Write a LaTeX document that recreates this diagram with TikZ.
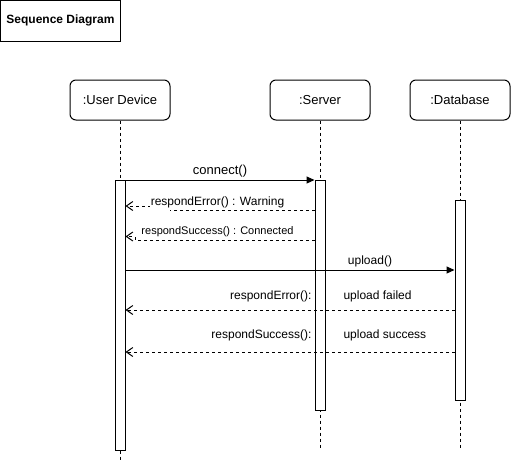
\documentclass[tikz,border=0pt]{standalone}
\usepackage{fontspec}
\setmainfont{Liberation Sans}
\usetikzlibrary{arrows.meta}

\begin{document}
\begin{tikzpicture}[
  x=1pt, y=-1pt,
  line width=1pt,
  font=\fontsize{12}{14}\selectfont,
  actor/.style={draw, rounded corners=6pt, minimum width=100pt, minimum height=40pt,
    inner sep=0pt, font=\fontsize{13}{15}\selectfont},
  titlebox/.style={draw, minimum width=120pt, minimum height=41pt, inner sep=0pt,
    font=\fontsize{12}{14}\selectfont\bfseries},
  lifeline/.style={dash pattern=on 3pt off 3pt},
  activation/.style={draw, fill=white, minimum width=10pt, inner sep=0pt, anchor=north},
  callmsg/.style={-{Triangle[length=8pt,width=7pt]}},
  replymsg/.style={dash pattern=on 3pt off 3pt, -{Straight Barb[length=6.5pt,width=9pt]}},
  msglabel/.style={inner sep=1pt},
]
\useasboundingbox (0,0) rectangle (511,461);

% title
\node[titlebox] (title) at (60.5,20.5) {Sequence Diagram};

% participants
\node[actor] (ud)  at (120,100) {:User Device};
\node[actor] (srv) at (320,100) {:Server};
\node[actor] (db)  at (460,100) {:Database};

% lifeline ends
\coordinate (udEnd)  at (120,460);
\coordinate (srvEnd) at (320,448);
\coordinate (dbEnd)  at (460,448);

% lifelines
\draw[lifeline] (ud.south)  -- (udEnd);
\draw[lifeline] (srv.south) -- (srvEnd);
\draw[lifeline] (db.south)  -- (dbEnd);

% activation bars
\node[activation, minimum height=270pt] (ua) at (120,180) {};
\node[activation, minimum height=230pt] (sa) at (320,180) {};
\node[activation, minimum height=200pt] (da) at (460,200) {};

% connect()
\draw[callmsg] (ua.east |- 0,180) -- (sa.west |- 0,180);
\node[msglabel] (lconnect) at (220,171) {\fontsize{13}{15}\selectfont connect()};

% respondError() : Warning
\draw[replymsg] (sa.west |- 0,210) -- (170,210) -- (170,206) -- (ua.east |- 0,206);
\node[msglabel, fill=white, inner ysep=2pt] (lwarn) at (217.5,202) {respondError() : Warning};

% respondSuccess() : Connected
\draw[replymsg] (sa.west |- 0,240) -- (135,240) -- (135,236.5) -- (ua.east |- 0,236.5);
\node[msglabel, fill=white, font=\fontsize{11}{13}\selectfont] (lconn) at (217.5,232) {respondSuccess() : Connected};

% upload()
\draw[callmsg] (ua.east |- 0,270) -- (da.west |- 0,270);
\node[msglabel] (lupload) at (370,261) {upload()};

% respondError(): upload failed
\draw[replymsg] (da.west |- 0,310) -- (ua.east |- 0,310);
\node[msglabel, anchor=east] (lerr) at (313,296.5) {respondError():};
\node[msglabel, anchor=west] (lfail) at (342,296.5) {upload failed};

% respondSuccess(): upload success
\draw[replymsg] (da.west |- 0,352) -- (ua.east |- 0,352);
\node[msglabel, anchor=east] (lsucc) at (313,335.5) {respondSuccess():};
\node[msglabel, anchor=west] (lok) at (342,335.5) {upload success};
\end{tikzpicture}
\end{document}
